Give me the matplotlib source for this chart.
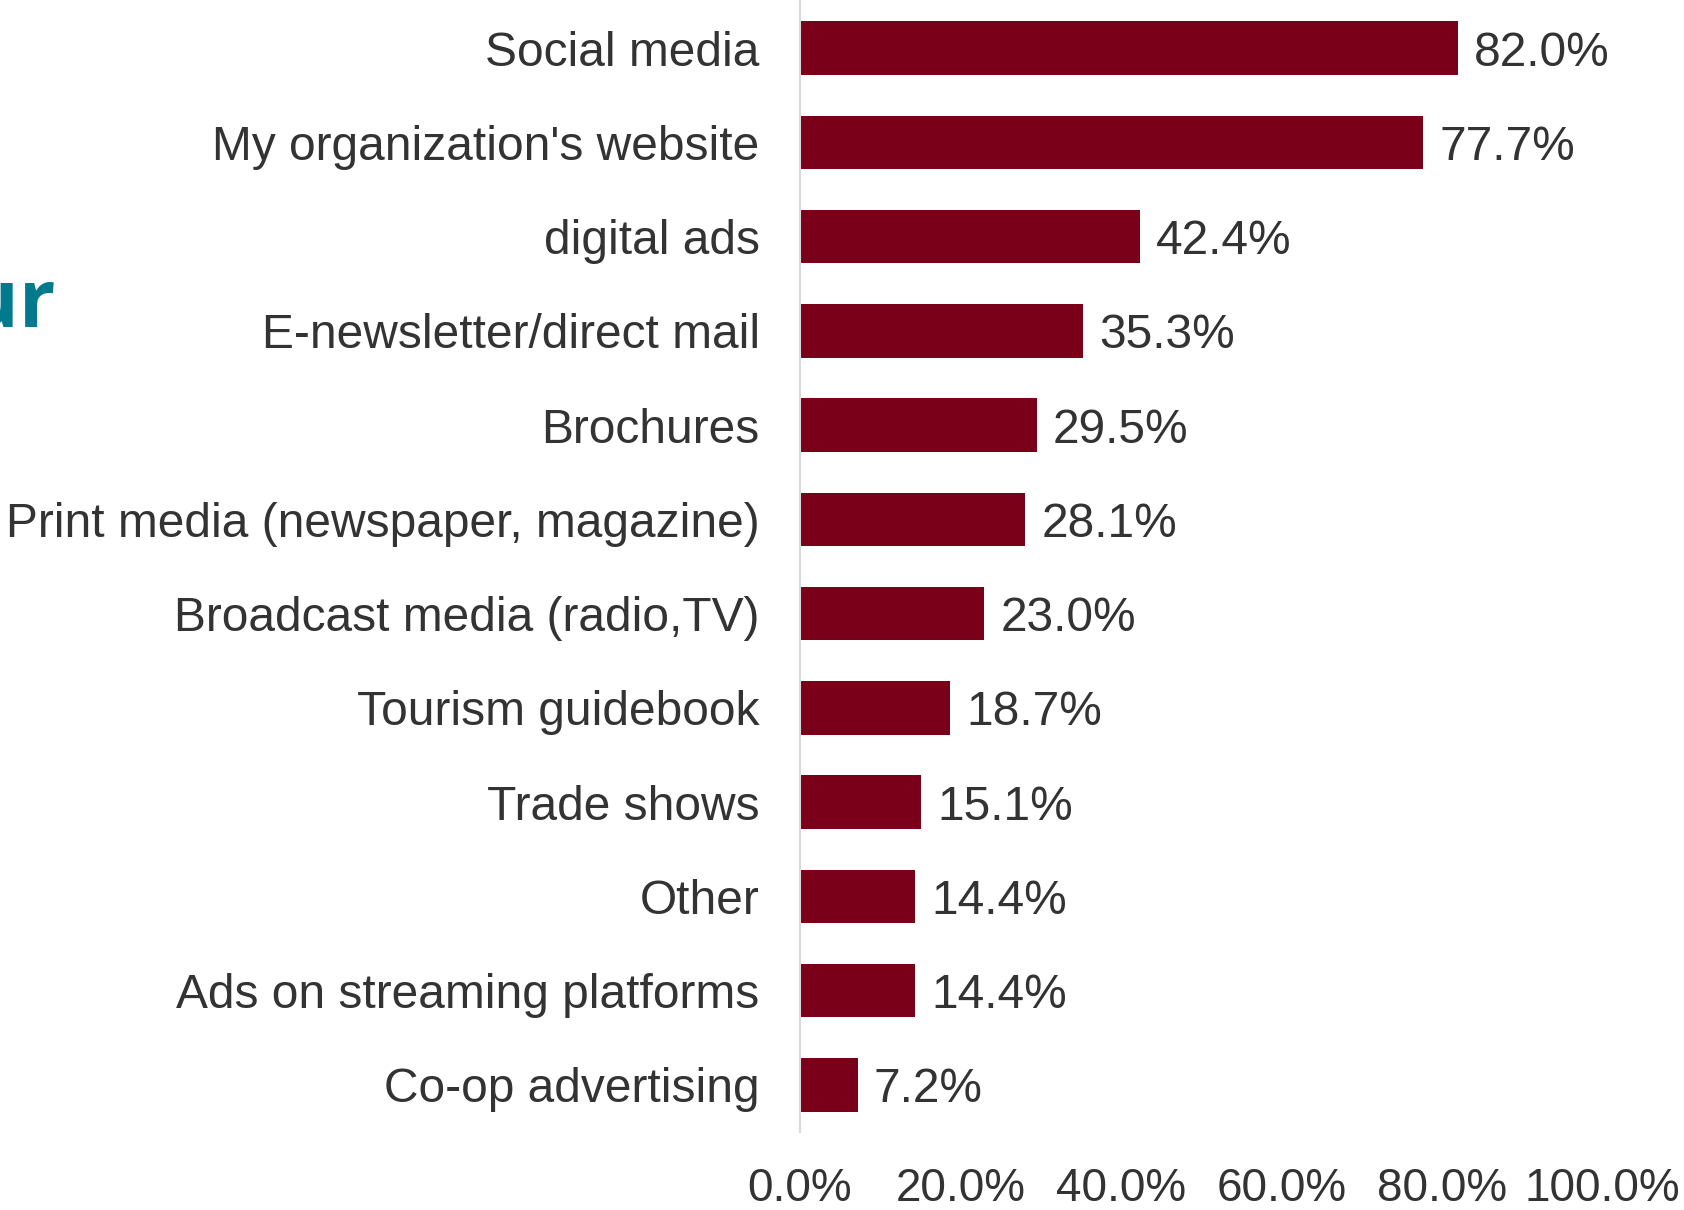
import matplotlib.pyplot as plt
from matplotlib.ticker import FuncFormatter

plt.rcParams['font.family'] = ['Liberation Sans', 'DejaVu Sans']

channels = [
    "Social media",
    "My organization's website",
    "digital ads",
    "E-newsletter/direct mail",
    "Brochures",
    "Print media (newspaper, magazine)",
    "Broadcast media (radio,TV)",
    "Tourism guidebook",
    "Trade shows",
    "Other",
    "Ads on streaming platforms",
    "Co-op advertising",
]
shares = [82.0, 77.7, 42.4, 35.3, 29.5, 28.1, 23.0, 18.7, 15.1, 14.4, 14.4, 7.2]
x_ticks = [0, 20, 40, 60, 80, 100]

BAR_COLOR = "#7A0019"
TEXT_COLOR = "#333333"

fig = plt.figure(figsize=(16.84, 12.10), dpi=100)
ax = fig.add_axes([800 / 1684, 1 - 1132 / 1210, 802 / 1684, 1131 / 1210])

pos = list(range(len(channels)))
ax.barh(pos, shares, height=0.57, color=BAR_COLOR)
ax.set_ylim(len(channels) - 0.5, -0.5)
ax.set_xlim(0, 100)

for p, v in zip(pos, shares):
    ax.text(v + 2.0, p, f"{v:.1f}%", va="center_baseline", ha="left",
            fontsize=34.5, color=TEXT_COLOR)

ax.set_yticks(pos)
ax.set_yticklabels(channels, fontsize=34.5, color=TEXT_COLOR)
ax.set_xticks(x_ticks)
ax.xaxis.set_major_formatter(FuncFormatter(lambda v, _: f"{v:.1f}%"))
ax.tick_params(axis="x", labelsize=33, colors=TEXT_COLOR, length=0, pad=25)
ax.tick_params(axis="y", length=0, pad=29)

for side in ("top", "right", "bottom"):
    ax.spines[side].set_visible(False)
ax.spines["left"].set_color("#D9D9D9")
ax.spines["left"].set_linewidth(1.5)

# tail of the slide heading that runs in from the left
fig.text(-34 / 1684, 1 - 327 / 1210, "ur", fontsize=58, fontweight="bold",
         color="#007A8C", family=["Open Sans", "DejaVu Sans"],
         ha="left", va="baseline")

fig.savefig("out.png", dpi=100)
